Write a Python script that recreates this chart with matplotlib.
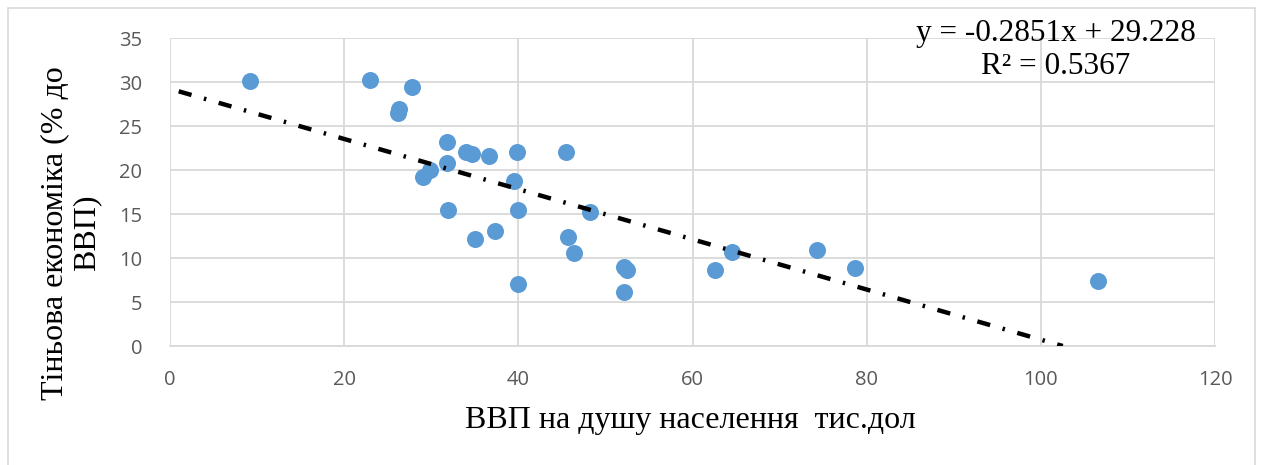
import numpy as np
import matplotlib.pyplot as plt
from matplotlib.patches import Rectangle

# GDP per capita (thous. USD) and shadow economy (% of GDP)
gdp = [9.2, 23.0, 27.8, 26.3, 26.2, 31.8, 31.8, 34.0, 34.7, 36.6,
       29.8, 29.0, 39.9, 39.5, 31.9, 40.0, 35.0, 37.3, 40.0, 45.5,
       48.2, 45.7, 46.4, 52.1, 52.5, 52.1, 62.6, 64.5, 74.3, 78.7, 106.6]
shadow = [30.1, 30.2, 29.4, 26.9, 26.5, 23.2, 20.8, 22.0, 21.8, 21.6,
          20.0, 19.2, 22.1, 18.7, 15.4, 15.4, 12.2, 13.1, 7.0, 22.0,
          15.2, 12.4, 10.6, 9.0, 8.6, 6.1, 8.6, 10.7, 10.9, 8.9, 7.4]
slope, intercept = -0.2851, 29.228
x_ticks = [0, 20, 40, 60, 80, 100, 120]
y_ticks = [0, 5, 10, 15, 20, 25, 30, 35]

W, H = 1261, 465
fig = plt.figure(figsize=(W / 100, H / 100), dpi=100)
ax = fig.add_axes([170 / W, 1 - 346 / H, 1045 / W, 308 / H])

# outer chart border
fig.patches.append(Rectangle((8 / W, -0.05), 1247 / W, 1 - 8 / H + 0.05,
                             transform=fig.transFigure, fill=False,
                             edgecolor='#d9d9d9', linewidth=1.2))

ax.scatter(gdp, shadow, s=150, color='#5b9bd5', zorder=3, linewidths=0)

tx = np.array([1.0, -intercept / slope])
ax.plot(tx, slope * tx + intercept, color='black', linewidth=3.2,
        dashes=(3.0, 2.9, 0.55, 2.9), zorder=4)

ax.set_xlim(0, 120)
ax.set_ylim(0, 35)
ax.set_xticks(x_ticks)
ax.set_yticks(y_ticks)
ax.grid(True, color='#d9d9d9', linewidth=1.3)
ax.set_axisbelow(True)
for s in ax.spines.values():
    s.set_visible(False)
ax.spines['bottom'].set_visible(True)
ax.spines['bottom'].set_color('#d9d9d9')
ax.spines['bottom'].set_linewidth(1.3)
ax.tick_params(axis='x', length=0, labelsize=14.5, labelcolor='#595959', pad=17)
ax.tick_params(axis='y', length=0, labelsize=14.5, labelcolor='#595959', pad=20)
for lab in ax.get_xticklabels() + ax.get_yticklabels():
    lab.set_family('Open Sans')

fig.text(690 / W, 1 - 420 / H, 'ВВП на душу населення  тис.дол',
         family='Liberation Serif', fontsize=23, ha='center', va='center')
fig.text(71 / W, 1 - 233 / H, 'Тіньова економіка (% до\nВВП)',
         family='Liberation Serif', fontsize=23, ha='center', va='center',
         rotation=90, linespacing=1.12)

fig.text(1056 / W, 1 - 50 / H, 'y = -0.2851x + 29.228\nR² = 0.5367',
         family='Liberation Serif', fontsize=22.5, ha='center', va='center',
         linespacing=1.2)

fig.savefig('out.png', dpi=100)
